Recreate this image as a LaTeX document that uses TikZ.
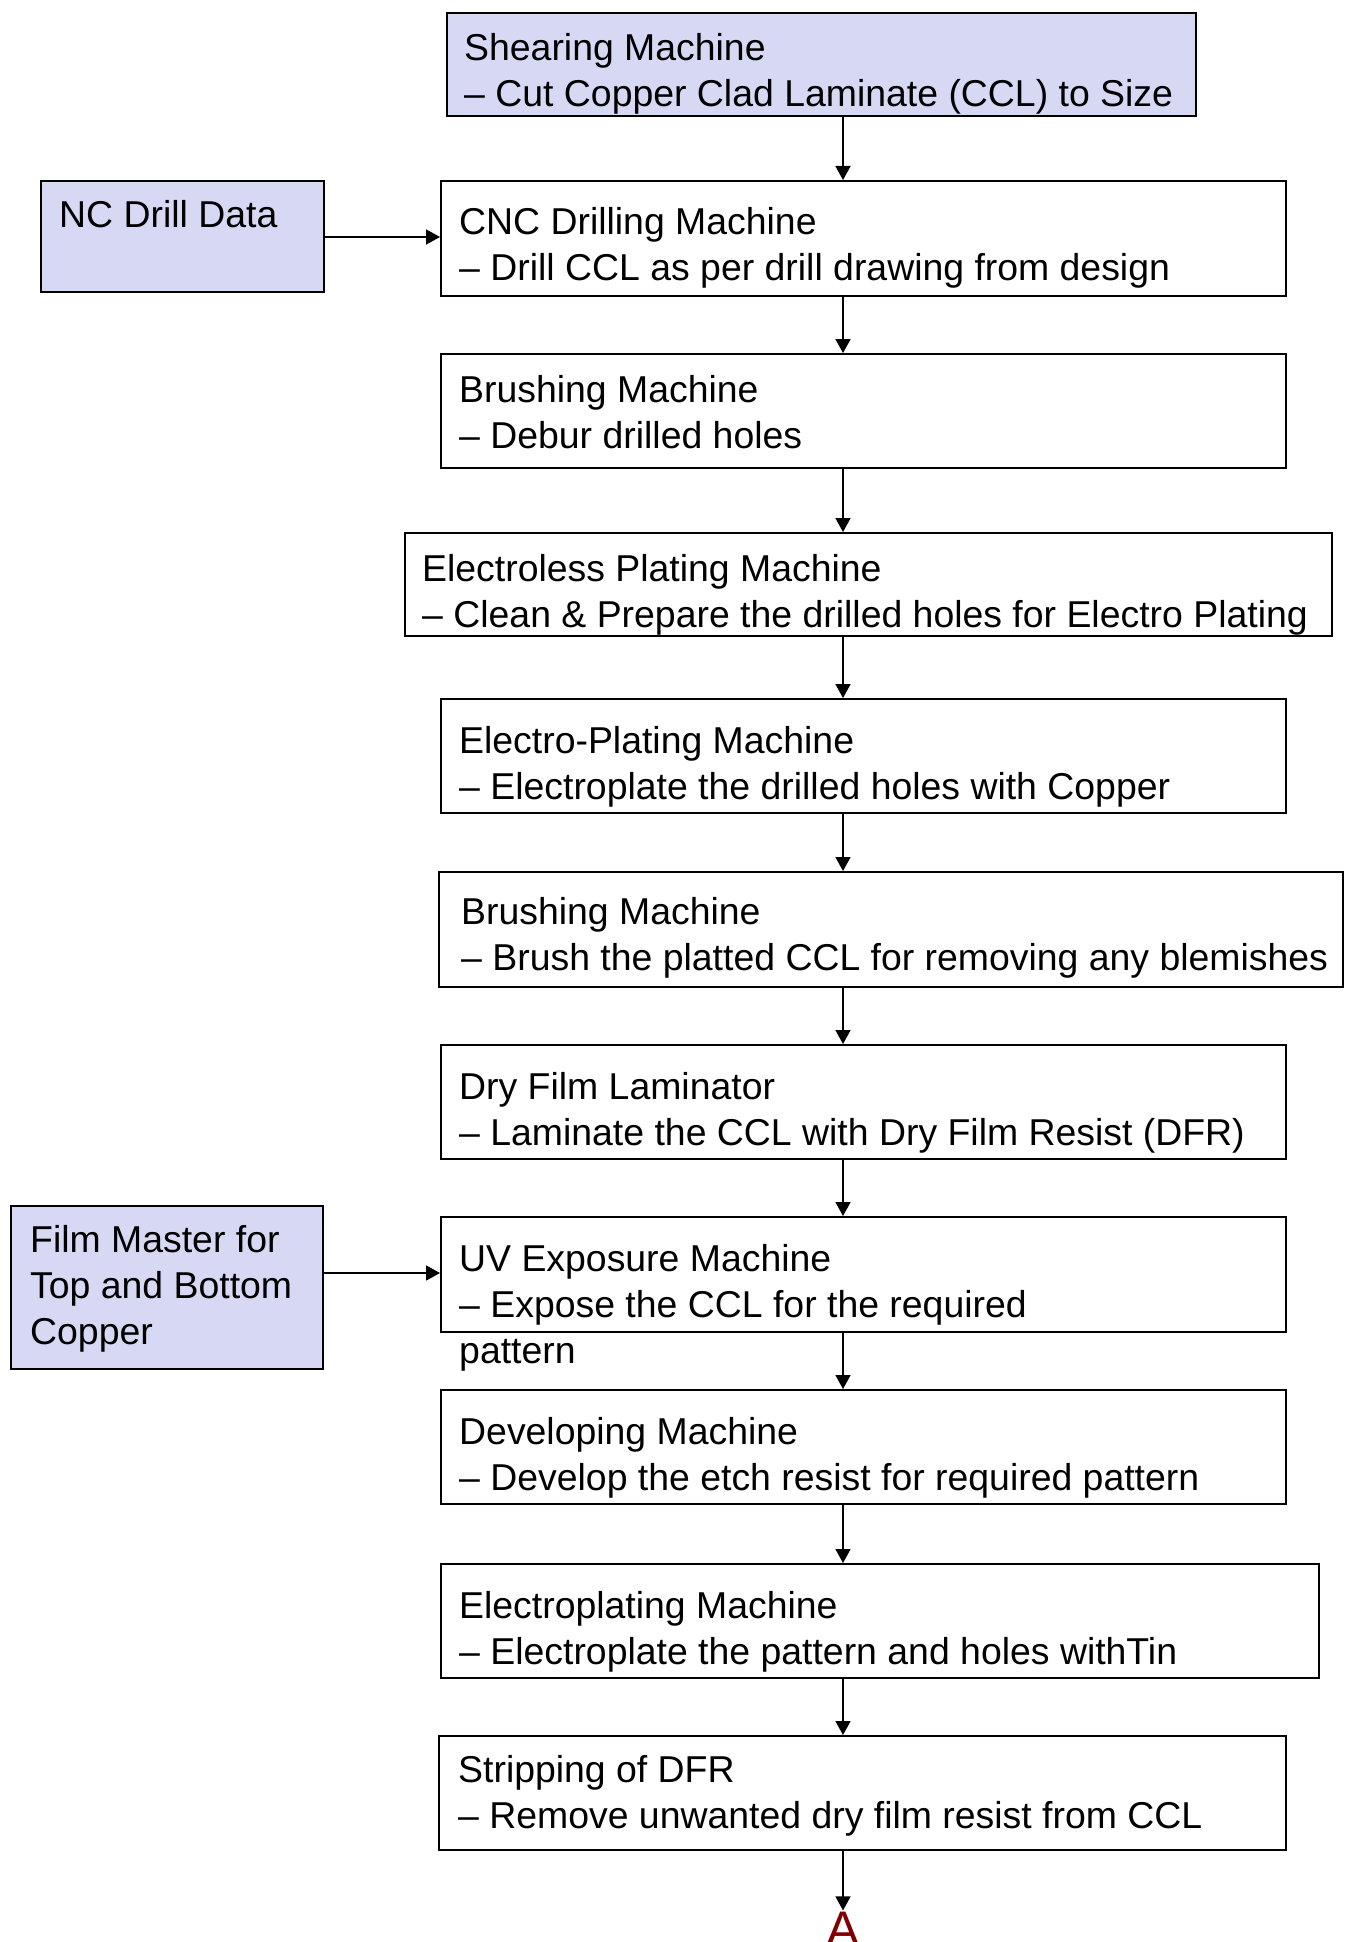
\documentclass[tikz,border=0pt]{standalone}
\usepackage{fontspec}
\setmainfont{Liberation Sans}
\usetikzlibrary{arrows.meta}
\definecolor{boxfill}{RGB}{214,216,244}
\definecolor{markred}{RGB}{128,0,0}
\begin{document}
\begin{tikzpicture}[x=1pt,y=-1pt,
  box/.style={draw=black,line width=2pt,rectangle,inner sep=0,anchor=north west},
  inbox/.style={box,fill=boxfill},
  lbl/.style={anchor=north west,inner sep=0,align=left,font=\fontsize{37.4}{46}\selectfont},
  arr/.style={line width=1.6pt,-{Triangle[length=14pt,width=15pt]}}]
\useasboundingbox (0,0) rectangle (1351,1942);
\coordinate (spine) at (843,0);
% boxes
\node[inbox,minimum width=749,minimum height=103] (shear) at (446,12) {};
\node[inbox,minimum width=283,minimum height=111] (nc) at (40,180) {};
\node[box,minimum width=845,minimum height=115] (cnc) at (440,180) {};
\node[box,minimum width=845,minimum height=114] (br1) at (440,353) {};
\node[box,minimum width=927,minimum height=103] (elp) at (404,532) {};
\node[box,minimum width=845,minimum height=114] (epm) at (440,698) {};
\node[box,minimum width=904,minimum height=115] (br2) at (438,871) {};
\node[box,minimum width=845,minimum height=114] (dfl) at (440,1044) {};
\node[inbox,minimum width=312,minimum height=163] (fm) at (10,1205) {};
\node[box,minimum width=845,minimum height=115] (uv) at (440,1216) {};
\node[box,minimum width=845,minimum height=114] (dev) at (440,1389) {};
\node[box,minimum width=878,minimum height=114] (epl) at (440,1563) {};
\node[box,minimum width=847,minimum height=114] (strip) at (438,1735) {};
% labels
\node[lbl] (tshear) at (464,32) {\rule{0pt}{28pt}Shearing Machine\\– Cut Copper Clad Laminate (CCL) to Size};
\node[lbl] (tnc) at (59,199) {\rule{0pt}{28pt}NC Drill Data};
\node[lbl] (tcnc) at (459,206) {\rule{0pt}{28pt}CNC Drilling Machine\\– Drill CCL as per drill drawing from design};
\node[lbl] (tbr1) at (459,374) {\rule{0pt}{28pt}Brushing Machine\\– Debur drilled holes};
\node[lbl] (telp) at (422,553) {\rule{0pt}{28pt}Electroless Plating Machine\\– Clean \& Prepare the drilled holes for Electro Plating};
\node[lbl] (tepm) at (459,725) {\rule{0pt}{28pt}Electro-Plating Machine\\– Electroplate the drilled holes with Copper};
\node[lbl] (tbr2) at (461,896) {\rule{0pt}{28pt}Brushing Machine\\– Brush the platted CCL for removing any blemishes};
\node[lbl] (tdfl) at (459,1071) {\rule{0pt}{28pt}Dry Film Laminator\\– Laminate the CCL with Dry Film Resist (DFR)};
\node[lbl] (tfm) at (30,1224) {\rule{0pt}{28pt}Film Master for\\Top and Bottom\\Copper};
\node[lbl] (tuv) at (459,1243) {\rule{0pt}{28pt}UV Exposure Machine\\– Expose the CCL for the required\\pattern};
\node[lbl] (tdev) at (459,1416) {\rule{0pt}{28pt}Developing Machine\\– Develop the etch resist for required pattern};
\node[lbl] (tepl) at (459,1590) {\rule{0pt}{28pt}Electroplating Machine\\– Electroplate the pattern and holes withTin};
\node[lbl] (tstrip) at (458,1754) {\rule{0pt}{28pt}Stripping of DFR\\– Remove unwanted dry film resist from CCL};
\node[anchor=base,inner sep=1pt,text=markred,font=\fontsize{50}{60}\selectfont] (A) at (843,1946) {A};
% connectors
\draw[arr] (shear.south -| spine) -- (cnc.north -| spine);
\draw[arr] (cnc.south -| spine) -- (br1.north -| spine);
\draw[arr] (br1.south -| spine) -- (elp.north -| spine);
\draw[arr] (elp.south -| spine) -- (epm.north -| spine);
\draw[arr] (epm.south -| spine) -- (br2.north -| spine);
\draw[arr] (br2.south -| spine) -- (dfl.north -| spine);
\draw[arr] (dfl.south -| spine) -- (uv.north -| spine);
\draw[arr] (uv.south -| spine) -- (dev.north -| spine);
\draw[arr] (dev.south -| spine) -- (epl.north -| spine);
\draw[arr] (epl.south -| spine) -- (strip.north -| spine);
\draw[arr] (strip.south -| spine) -- (A.north);
\coordinate (ncout) at (nc.east |- 0,237);
\coordinate (fmout) at (fm.east |- 0,1273);
\draw[arr] (ncout) -- (ncout -| cnc.west);
\draw[arr] (fmout) -- (fmout -| uv.west);
\end{tikzpicture}
\end{document}
